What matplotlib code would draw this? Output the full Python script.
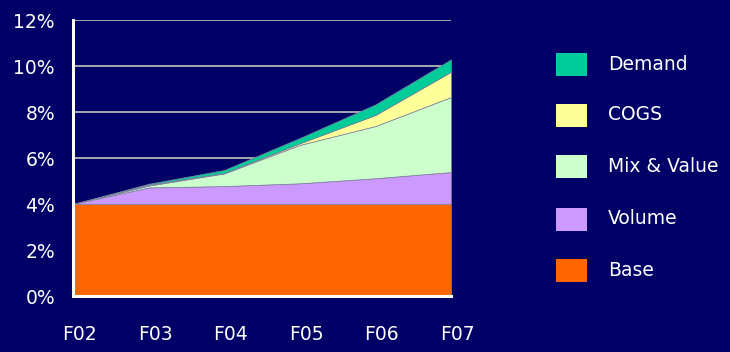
import matplotlib
matplotlib.use("Agg")
import matplotlib.pyplot as plt
from matplotlib.patches import Rectangle
from matplotlib.ticker import FuncFormatter, MultipleLocator
import matplotlib.transforms as mtransforms

# Fiscal years and stacked contributions (percentage points)
years = ["F02", "F03", "F04", "F05", "F06", "F07"]
base = [4.00, 4.00, 4.00, 4.00, 4.00, 4.00]
volume = [0.00, 0.72, 0.78, 0.90, 1.12, 1.39]
mix_value = [0.00, 0.08, 0.55, 1.67, 2.27, 3.26]
cogs = [0.00, 0.04, 0.02, 0.07, 0.48, 1.10]
demand = [0.00, 0.04, 0.13, 0.23, 0.46, 0.54]

series_names = ["Base", "Volume", "Mix & Value", "COGS", "Demand"]
series_colors = ["#FF6600", "#CC99FF", "#CCFFCC", "#FFFF99", "#00CC99"]

BG = "#000066"
W, H = 730, 352

fig = plt.figure(figsize=(W / 100, H / 100), dpi=100, facecolor=BG)
ax = fig.add_axes([73 / W, 1 - 296 / H, 378 / W, 276 / H], facecolor=BG)

x = list(range(len(years)))
ax.stackplot(x, base, volume, mix_value, cogs, demand,
             colors=series_colors, edgecolor="#8080A0", linewidth=0.5, zorder=3)

ax.set_xlim(0, len(years) - 1)
ax.set_ylim(0, 12)
ax.yaxis.set_major_locator(MultipleLocator(2))
ax.yaxis.set_major_formatter(FuncFormatter(lambda v, _: f"{v:.0f}%"))
ax.set_xticks(x)
ax.set_xticklabels(years)

ax.grid(axis="y", color="#A8A8B0", linewidth=1.4, zorder=1)
ax.set_axisbelow(True)

for side in ("top", "right"):
    ax.spines[side].set_visible(False)
for side in ("left", "bottom"):
    ax.spines[side].set_color("white")
    ax.spines[side].set_linewidth(2.2)
    ax.spines[side].set_zorder(5)

ax.tick_params(axis="both", length=0, colors="white", labelsize=13.5)
ax.tick_params(axis="y", pad=13)
ax.tick_params(axis="x", pad=21)

# Category labels sit slightly right of their data points
shift = mtransforms.ScaledTranslation(6.5 / 100, 0, fig.dpi_scale_trans)
for lbl in ax.get_xticklabels():
    lbl.set_transform(lbl.get_transform() + shift)

# Legend: colour swatches with labels, top entry = top layer
legend_rows = [64, 115, 166, 219, 270]
for name, color, yc in zip(series_names[::-1], series_colors[::-1], legend_rows):
    fig.add_artist(Rectangle((556 / W, 1 - (yc + 11.5) / H), 31 / W, 23 / H,
                             transform=fig.transFigure, facecolor=color,
                             edgecolor="none"))
    fig.text(608 / W, 1 - yc / H, name, color="white", fontsize=13.5,
             va="center", ha="left")

fig.savefig("out.png", dpi=100, facecolor=BG)
